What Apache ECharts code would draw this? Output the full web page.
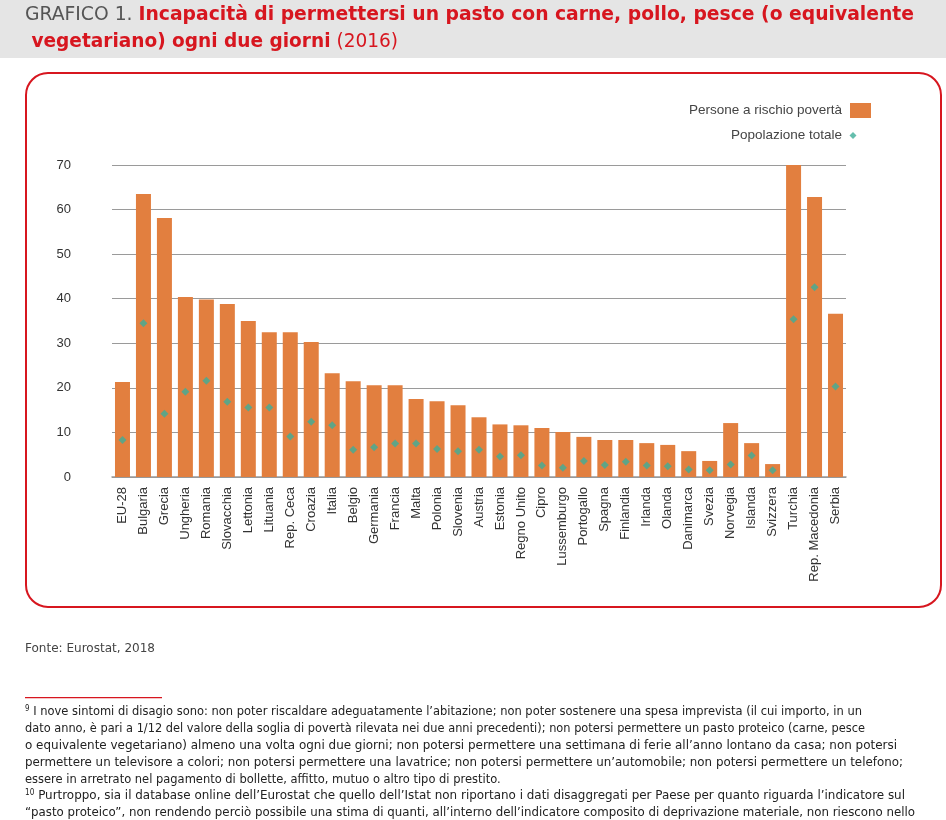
<!DOCTYPE html>
<html>
<head>
<meta charset="utf-8">
<script src="https://cdn.jsdelivr.net/npm/echarts@6/dist/echarts.min.js"></script>
<style>
html,body{margin:0;padding:0;background:#fff;}
#chart{width:946px;height:820px;}
</style>
</head>
<body>
<div id="chart"></div>
<script>
const categories = ['EU-28','Bulgaria','Grecia','Ungheria','Romania','Slovacchia','Lettonia','Lituania','Rep. Ceca','Croazia','Italia','Belgio','Germania','Francia','Malta','Polonia','Slovenia','Austria','Estonia','Regno Unito','Cipro','Lussemburgo','Portogallo','Spagna','Finlandia','Irlanda','Olanda','Danimarca','Svezia','Norvegia','Islanda','Svizzera','Turchia','Rep. Macedonia','Serbia'];
const rischioPoverta = [21.3,63.5,58.1,40.4,39.8,38.8,35.0,32.5,32.5,30.3,23.3,21.5,20.6,20.6,17.5,17.0,16.1,13.4,11.8,11.6,11.0,10.1,9.0,8.3,8.3,7.6,7.2,5.8,3.6,12.1,7.6,2.9,70.0,62.8,36.6];
const popolazioneTotale = [8.3,34.5,14.2,19.1,21.6,16.9,15.6,15.6,9.1,12.4,11.6,6.1,6.7,7.5,7.5,6.3,5.8,6.1,4.6,4.9,2.6,2.1,3.6,2.7,3.4,2.6,2.4,1.7,1.5,2.8,4.8,1.5,35.4,42.6,20.3];
const yTicks = [0,10,20,30,40,50,60,70];
const seriesNames = ['Persone a rischio povertà','Popolazione totale'];

const footnotes = [
  ['9',' I nove sintomi di disagio sono: non poter riscaldare adeguatamente l’abitazione; non poter sostenere una spesa imprevista (il cui importo, in un'],
  ['','dato anno, è pari a 1/12 del valore della soglia di povertà rilevata nei due anni precedenti); non potersi permettere un pasto proteico (carne, pesce'],
  ['','o equivalente vegetariano) almeno una volta ogni due giorni; non potersi permettere una settimana di ferie all’anno lontano da casa; non potersi'],
  ['','permettere un televisore a colori; non potersi permettere una lavatrice; non potersi permettere un’automobile; non potersi permettere un telefono;'],
  ['','essere in arretrato nel pagamento di bollette, affitto, mutuo o altro tipo di prestito.'],
  ['10',' Purtroppo, sia il database online dell’Eurostat che quello dell’Istat non riportano i dati disaggregati per Paese per quanto riguarda l’indicatore sul'],
  ['','“pasto proteico”, non rendendo perciò possibile una stima di quanti, all’interno dell’indicatore composito di deprivazione materiale, non riescono nello']
];
const footWidths = [837, 840, 872, 878, 0, 880, 890];

const RED = '#d7161f';
const ORANGE = '#e27f3f';
const TEAL = '#3eae98';
const NARROW = '"Liberation Sans Narrow","DejaVu Sans Condensed","Liberation Sans",sans-serif';

const cv = document.createElement('canvas').getContext('2d');
function measure(txt, size, weight, family){
  cv.font = (weight||'normal') + ' ' + size + 'px ' + family;
  return cv.measureText(txt).width;
}

const graphic = [];
graphic.push({type:'rect', shape:{x:0,y:0,width:946,height:58}, style:{fill:'#e5e5e5'}, z:-10});
(function(){
  const p1 = 'GRAFICO 1. ', p2 = 'Incapacità di permettersi un pasto con carne, pollo, pesce (o equivalente';
  const w = measure(p1,19,'normal',NARROW) + measure(p2,19,'bold',NARROW);
  graphic.push({type:'text', x:25, y:15, scaleX: 889 / w, originX:0, originY:0,
    style:{text:'{a|'+p1+'}{b|'+p2+'}', verticalAlign:'middle', rich:{
      a:{fontSize:19, fontFamily:NARROW, fill:'#555', fontWeight:'normal'},
      b:{fontSize:19, fontFamily:NARROW, fill:RED, fontWeight:'bold'}}}});
  const q1 = ' vegetariano) ogni due giorni', q2 = ' (2016)';
  const w2 = measure(q1,19,'bold',NARROW) + measure(q2,19,'normal',NARROW);
  graphic.push({type:'text', x:25, y:42, scaleX: 373 / w2, originX:0, originY:0,
    style:{text:'{b|'+q1+'}{a|'+q2+'}', verticalAlign:'middle', rich:{
      a:{fontSize:19, fontFamily:NARROW, fill:RED, fontWeight:'normal'},
      b:{fontSize:19, fontFamily:NARROW, fill:RED, fontWeight:'bold'}}}});
})();
graphic.push({type:'rect', shape:{x:26,y:73,width:915,height:534,r:22}, style:{fill:'none', stroke:RED, lineWidth:2}, z:-5});
(function(){
  const t = 'Fonte: Eurostat, 2018';
  const w = measure(t,13,'normal',NARROW);
  graphic.push({type:'text', x:25, y:649, scaleX:130/w, style:{text:t, fontSize:13, fontFamily:NARROW, fill:'#444', verticalAlign:'middle'}});
})();
graphic.push({type:'rect', shape:{x:25,y:697,width:137,height:1.2}, style:{fill:RED}});
footnotes.forEach(function(f, i){
  const sup = f[0], body = f[1];
  const w = (sup ? measure(sup,8,'normal',NARROW) : 0) + measure(body,13,'normal',NARROW);
  const sx = footWidths[i] ? footWidths[i] / w : (footWidths[0] / ((footnotes[0][0]?measure(footnotes[0][0],8,'normal',NARROW):0)+measure(footnotes[0][1],13,'normal',NARROW)));
  graphic.push({type:'text', x:25, y:712 + i*16.8, scaleX:sx, originX:0, originY:0,
    style:{text:(sup?'{s|'+sup+'}':'')+'{t|'+body+'}', verticalAlign:'middle', rich:{
      s:{fontSize:8, fontFamily:NARROW, fill:'#222', verticalAlign:'top', padding:[0,0,6,0]},
      t:{fontSize:13, fontFamily:NARROW, fill:'#222'}}}});
});

const chart = echarts.init(document.getElementById('chart'), null, {renderer:'canvas'});
chart.setOption({
  animation:false,
  backgroundColor:'#fff',
  textStyle:{fontFamily:'"Liberation Sans",Arial,sans-serif'},
  graphic: graphic,
  legend:[
    {data:[{name:seriesNames[0], icon:'rect'}], right:75, top:103, orient:'vertical', align:'right', itemWidth:21, itemHeight:15, padding:0,
     textStyle:{fontSize:13.5, color:'#444', padding:[0,3,0,0]}, selectedMode:false},
    {data:[{name:seriesNames[1], icon:'diamond'}], right:89.5, top:128.5, orient:'vertical', align:'right', itemWidth:7, itemHeight:7, padding:0,
     textStyle:{fontSize:13.5, color:'#444', padding:[0,2.5,0,0]}, selectedMode:false}
  ],
  grid:{left:112, right:100, top:165, bottom:343, containLabel:false},
  xAxis:{type:'category', data:categories,
    axisLine:{show:true, lineStyle:{color:'#999', width:1.5}},
    axisTick:{show:false},
    axisLabel:{interval:0, rotate:90, fontSize:13, color:'#333', margin:10}},
  yAxis:{type:'value', min:yTicks[0], max:yTicks[yTicks.length-1], interval:yTicks[1]-yTicks[0],
    axisLine:{show:false}, axisTick:{show:false},
    axisLabel:{fontSize:13, color:'#333', margin:41},
    splitLine:{lineStyle:{color:'#9a9a9a', width:1}}},
  series:[
    {name:seriesNames[0], type:'bar', data:rischioPoverta, barWidth:15, itemStyle:{color:ORANGE}},
    {name:seriesNames[1], type:'scatter', data:popolazioneTotale, symbol:'diamond', symbolSize:8, itemStyle:{color:TEAL}, z:5}
  ]
});
</script>
</body>
</html>
